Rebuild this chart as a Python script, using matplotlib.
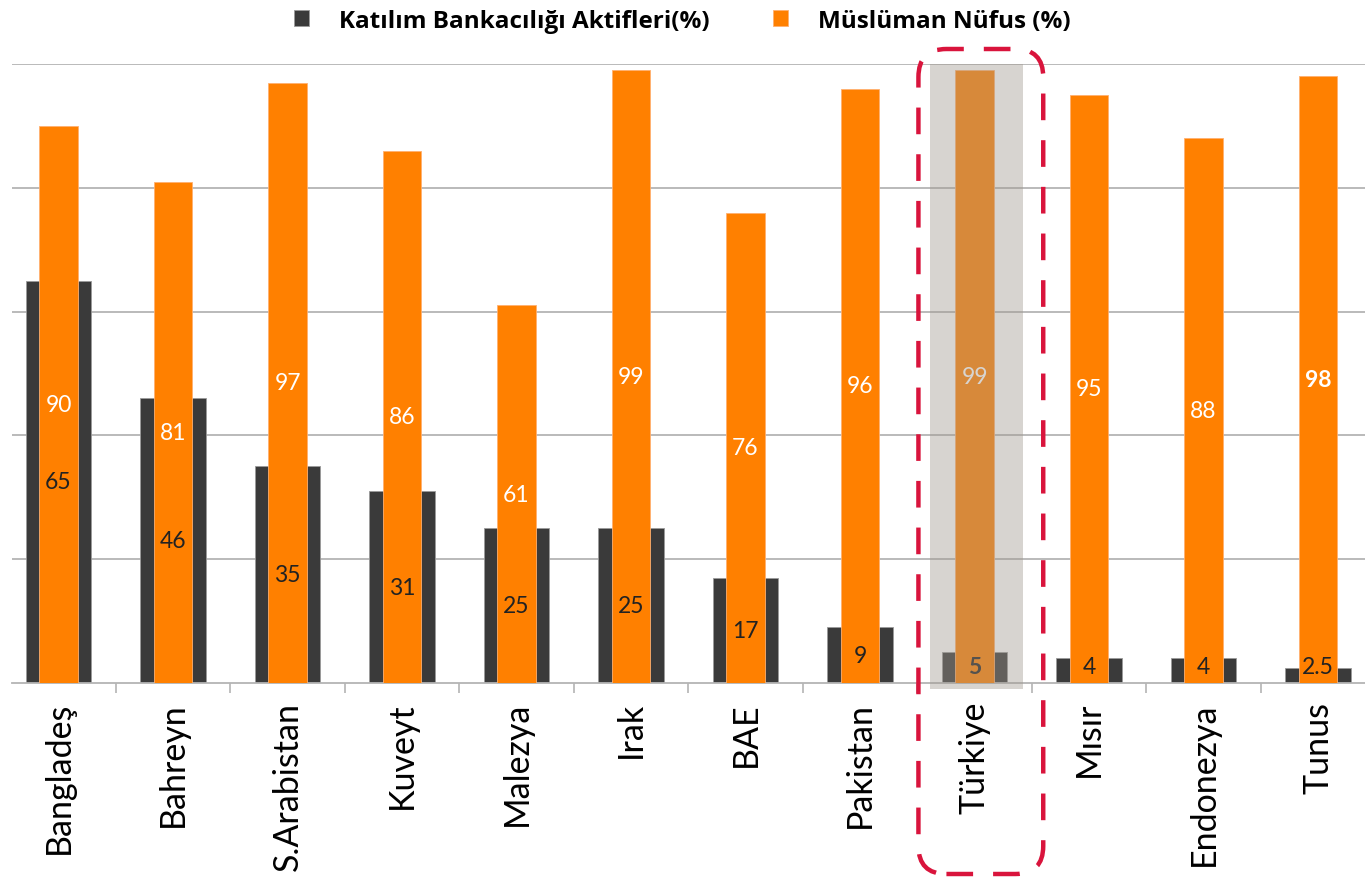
import numpy as np
import matplotlib.pyplot as plt
from matplotlib.patches import Rectangle, FancyBboxPatch

plt.rcParams['font.family'] = ['Lato', 'DejaVu Sans']

# data
countries = ['Bangladeş', 'Bahreyn', 'S.Arabistan', 'Kuveyt', 'Malezya', 'Irak',
             'BAE', 'Pakistan', 'Türkiye', 'Mısır', 'Endonezya', 'Tunus']
katilim = [65, 46, 35, 31, 25, 25, 17, 9, 5, 4, 4, 2.5]
musluman = [90, 81, 97, 86, 61, 99, 76, 96, 99, 95, 88, 98]
highlight = 'Türkiye'

dark = '#3a3a3a'
orange = '#ff8000'

fig = plt.figure(figsize=(13.65, 8.79), dpi=100)
ax = fig.add_axes([12 / 1365, 1 - 684 / 879, 1 - 12 / 1365, (684 - 65) / 879])

x = np.arange(len(countries))
ax.bar(x, katilim, width=0.57, color=dark, edgecolor='#9a9a9a', linewidth=0.6,
       zorder=2, label='Katılım Bankacılığı Aktifleri(%)')
ax.bar(x, musluman, width=0.335, color=orange, edgecolor='#ffb070', linewidth=0.6,
       zorder=3, label='Müslüman Nüfus (%)')

# value labels in the middle of the bars
for i, (k, m) in enumerate(zip(katilim, musluman)):
    ax.text(i, m / 2, f'{m:g}', ha='center', va='center', color='white',
            fontsize=16.5, zorder=4,
            fontweight='bold' if countries[i] == 'Tunus' else 'normal')
    ax.text(i, max(k / 2, 2.6), f'{k:g}', ha='center', va='center', color='#222222',
            fontsize=16.5, zorder=4,
            fontweight='bold' if countries[i] == highlight else 'normal')

ax.set_xlim(-0.406, 11.41)
ax.set_ylim(0, 100)
ax.set_yticks([20, 40, 60, 80, 100])
ax.yaxis.grid(True, color='#b4b4b4', linewidth=1.3, zorder=0)
ax.set_axisbelow(True)
ax.tick_params(axis='y', left=False, labelleft=False)
for s in ['top', 'right', 'left']:
    ax.spines[s].set_visible(False)
ax.spines['bottom'].set_color('#b4b4b4')
ax.spines['bottom'].set_linewidth(1.3)

ax.set_xticks(x)
ax.set_xticklabels(countries, rotation=90, fontsize=24.5, color='black')
ax.tick_params(axis='x', which='major', length=0, pad=13)
ax.set_xticks(x[:-1] + 0.5, minor=True)
ax.tick_params(axis='x', which='minor', length=7, color='#b4b4b4', width=1.2)

# highlight for Türkiye
ti = countries.index(highlight)
ax.add_patch(Rectangle((ti - 0.39, -1), 0.81, 101, facecolor=(160 / 255, 152 / 255, 143 / 255),
                       alpha=0.41, edgecolor='none', zorder=5, clip_on=False))

# red dashed rounded frame, placed in pixel coordinates
fig.canvas.draw()
x0, _ = ax.transData.transform((ti - 0.49, 0))
x1, _ = ax.transData.transform((ti + 0.6, 0))
y_top = 879 - 50
y_bot = 879 - 875
frame = FancyBboxPatch((x0, y_bot), x1 - x0, y_top - y_bot,
                       boxstyle='round,pad=0,rounding_size=28',
                       facecolor='none', edgecolor='#d9143c', linewidth=3.2,
                       linestyle=(0, (6, 4.5)), transform=None, zorder=10)
fig.patches.append(frame)

fig.legend(loc='upper center', bbox_to_anchor=(0.5, 1.014), ncol=2, frameon=False,
           prop={'family': ['Open Sans', 'DejaVu Sans'], 'weight': 'bold', 'size': 17.5},
           handlelength=0.6, handleheight=0.6, columnspacing=2.6, handletextpad=1.25)

fig.savefig('out.png', dpi=100)
